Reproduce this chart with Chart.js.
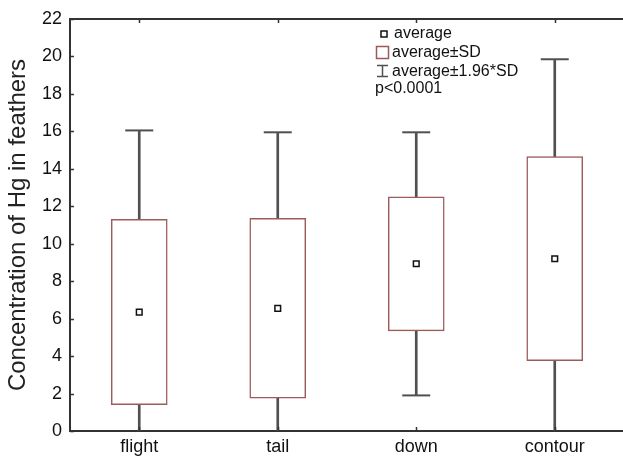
<!DOCTYPE html>
<html><head><meta charset="utf-8">
<script src="https://cdn.jsdelivr.net/npm/chart.js@4.4.0/dist/chart.umd.min.js"></script>
<style>
html,body{margin:0;padding:0;background:#fff;overflow:hidden;width:623px;height:456px}
#wrap{position:absolute;left:0;top:0;width:640px;height:456px}
</style>
</head><body>
<div id="wrap"><canvas id="c" width="640" height="456"></canvas></div>
<script>
const categories = ['flight', 'tail', 'down', 'contour'];
const averages = [6.35, 6.55, 8.93, 9.2];
const sdLow = [1.4, 1.75, 5.35, 3.75];
const sdHigh = [11.3, 11.35, 12.5, 14.65];
const ciLow = [-3.35, -2.85, 1.9, -1.48];
const ciHigh = [16.05, 15.95, 15.95, 19.85];
const yTickValues = [0, 2, 4, 6, 8, 10, 12, 14, 16, 18, 20, 22];
const legendLines = ['average', 'average\u00b1SD', 'average\u00b11.96*SD', 'p<0.0001'];

const AXIS = '#333333';
const WHISK = '#505050';
const BOXC = '#9e5a5a';
Chart.defaults.font.family = "'Liberation Sans', Arial, sans-serif";
Chart.defaults.color = '#111';

const innerTicks = {
  id: 'innerTicks',
  afterDraw(chart) {
    const {ctx, chartArea: a, scales: {x, y}} = chart;
    ctx.save();
    ctx.strokeStyle = AXIS;
    ctx.lineWidth = 1.5;
    ctx.beginPath();
    yTickValues.forEach(v => {
      const py = Math.round(y.getPixelForValue(v)) + 0.5;
      ctx.moveTo(a.left, py); ctx.lineTo(a.left + 4, py);
    });
    categories.forEach((c, i) => {
      const px = Math.round(x.getPixelForValue(i)) + 0.5;
      ctx.moveTo(px, a.bottom); ctx.lineTo(px, a.bottom - 4);
      ctx.moveTo(px, a.top); ctx.lineTo(px, a.top + 4);
    });
    ctx.stroke();
    ctx.restore();
  }
};

const legendPlugin = {
  id: 'boxLegend',
  afterDraw(chart) {
    const ctx = chart.ctx;
    ctx.save();
    ctx.font = "16px 'Liberation Sans', Arial, sans-serif";
    ctx.textBaseline = 'middle';
    ctx.fillStyle = '#fff';
    ctx.strokeStyle = '#111';
    ctx.lineWidth = 1.5;
    ctx.fillRect(381, 31, 6, 6);
    ctx.strokeRect(381, 31, 6, 6);
    ctx.strokeStyle = BOXC;
    ctx.strokeRect(376.5, 46.5, 12, 12);
    ctx.strokeStyle = WHISK;
    ctx.beginPath();
    ctx.moveTo(377, 65.5); ctx.lineTo(388, 65.5);
    ctx.moveTo(382.5, 65.5); ctx.lineTo(382.5, 76.5);
    ctx.moveTo(377, 76.5); ctx.lineTo(388, 76.5);
    ctx.stroke();
    ctx.fillStyle = '#111';
    ctx.fillText(legendLines[0], 394, 34);
    ctx.fillText(legendLines[1], 392, 53);
    ctx.fillText(legendLines[2], 392, 71.5);
    ctx.fillText(legendLines[3], 375, 89);
    ctx.restore();
  }
};

new Chart(document.getElementById('c'), {
  data: {
    labels: categories,
    datasets: [
      {
        type: 'bar', label: 'stem', order: 3, grouped: false,
        data: categories.map((c, i) => [ciLow[i], ciHigh[i]]),
        backgroundColor: WHISK, borderWidth: 0, barThickness: 2
      },
      {
        type: 'bar', label: 'average\u00b1SD', order: 2, grouped: false,
        data: categories.map((c, i) => [sdLow[i], sdHigh[i]]),
        backgroundColor: '#ffffff', borderColor: BOXC, borderWidth: 1.5,
        borderSkipped: false, barThickness: 56
      },
      {
        type: 'line', label: 'capHigh', order: 1, showLine: false,
        data: ciHigh, pointStyle: 'line', pointRadius: 14, pointBorderWidth: 2,
        borderColor: WHISK, backgroundColor: WHISK
      },
      {
        type: 'line', label: 'capLow', order: 1, showLine: false,
        data: ciLow, pointStyle: 'line', pointRadius: 14, pointBorderWidth: 2,
        borderColor: WHISK, backgroundColor: WHISK
      },
      {
        type: 'line', label: 'average', order: 0, showLine: false,
        data: averages, pointStyle: 'rect', pointRadius: 4, pointBorderWidth: 1.5,
        borderColor: '#111', backgroundColor: '#fff'
      }
    ]
  },
  options: {
    responsive: false,
    animation: false,
    events: [],
    layout: {padding: {left: 0, right: 10, top: 0, bottom: 0}},
    plugins: {legend: {display: false}, tooltip: {enabled: false}},
    scales: {
      x: {
        type: 'category', position: 'bottom', offset: true,
        grid: {display: false, drawTicks: false},
        border: {display: true, color: AXIS, width: 2},
        ticks: {font: {size: 18}, color: '#111', padding: 5},
        afterFit: s => { s.height = 25; }
      },
      x2: {
        type: 'category', position: 'top', offset: true, labels: categories,
        grid: {display: false, drawTicks: false},
        border: {display: true, color: AXIS, width: 2},
        ticks: {display: false},
        afterFit: s => { s.height = 19; }
      },
      y: {
        type: 'linear', min: 0, max: 22,
        grid: {display: false, drawTicks: false},
        border: {display: true, color: AXIS, width: 2},
        ticks: {stepSize: 2, font: {size: 18}, color: '#111', padding: 8,
          callback: v => yTickValues.includes(v) ? String(v) : ''},
        title: {display: true, text: 'Concentration of Hg in feathers',
          font: {size: 24}, color: '#222', padding: {top: 4, bottom: 0}},
        afterFit: s => { s.width = 70; }
      }
    }
  },
  plugins: [innerTicks, legendPlugin]
});
</script>
</body></html>
